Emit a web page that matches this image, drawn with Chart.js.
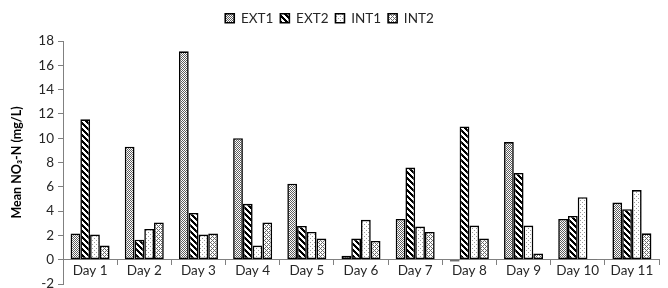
<!DOCTYPE html>
<html>
<head>
<meta charset="utf-8">
<script src="https://cdn.jsdelivr.net/npm/chart.js@4"></script>
<style>
  html, body { margin: 0; padding: 0; background: #fff; }
  #wrap { width: 668px; height: 288px; }
</style>
</head>
<body>
<div id="wrap"><canvas id="chart"></canvas></div>
<script>
/* ============================================================
   DATA
============================================================ */
const days = ['Day 1', 'Day 2', 'Day 3', 'Day 4', 'Day 5', 'Day 6', 'Day 7', 'Day 8', 'Day 9', 'Day 10', 'Day 11'];
const ext1 = [2.15, 9.3, 17.15, 10.0, 6.25, 0.33, 3.35, -0.15, 9.68, 3.35, 4.7];
const ext2 = [11.55, 1.65, 3.85, 4.6, 2.78, 1.74, 7.58, 10.97, 7.14, 3.6, 4.16];
const int1 = [2.07, 2.53, 2.07, 1.16, 2.28, 3.28, 2.73, 2.81, 2.81, 5.15, 5.73];
const int2 = [1.16, 3.06, 2.15, 3.06, 1.74, 1.54, 2.28, 1.74, 0.52, 0.05, 2.17];
const yTicks = [-2, 0, 2, 4, 6, 8, 10, 12, 14, 16, 18];

/* ============================================================
   PATTERNS — small pixel tiles
============================================================ */
const makeTile = (size, ink, test) => {
  const c = document.createElement('canvas');
  c.width = c.height = size;
  const g = c.getContext('2d');
  g.fillStyle = '#fff';
  g.fillRect(0, 0, size, size);
  g.fillStyle = ink;
  for (let y = 0; y < size; y++)
    for (let x = 0; x < size; x++)
      if (test(x, y)) g.fillRect(x, y, 1, 1);
  return g.createPattern(c, 'repeat');
};
const patExt1 = makeTile(2, '#5e5e5e', (x, y) => x === y);
const patExt2 = makeTile(6, '#000', (x, y) => ((x - y + 6) % 6) < 3);
const patInt1 = makeTile(4, '#9a9a9a', (x, y) => (x === 0 && y === 0) || (x === 2 && y === 2));
const patInt2 = makeTile(4, '#6a6a6a', (x, y) => (x + y) % 4 === 0 || (x - y + 4) % 4 === 0);

/* ============================================================
   CHART
============================================================ */
const FONT = "Lato, 'Open Sans', sans-serif";
const TXT = '#262626';
const mk = (label, data, pat) => ({
  label, data,
  backgroundColor: pat,
  borderColor: '#000',
  borderWidth: 1.6,
  borderSkipped: false,
});

// 凡例を少し上へ
const legendNudge = {
  id: 'legendNudge',
  afterLayout(chart) {
    const lg = chart.legend;
    if (!lg) return;
    lg.top -= 6;
    lg.bottom -= 6;
  }
};

new Chart(document.getElementById('chart'), {
  type: 'bar',
  data: {
    labels: days,
    datasets: [
      mk('EXT1', ext1, patExt1),
      mk('EXT2', ext2, patExt2),
      mk('INT1', int1, patInt1),
      mk('INT2', int2, patInt2),
    ]
  },
  plugins: [legendNudge],
  options: {
    responsive: true,
    maintainAspectRatio: false,
    animation: false,
    datasets: { bar: { barPercentage: 1, categoryPercentage: 0.72 } },
    layout: { padding: { left: 0, right: 9, top: 3, bottom: 4 } },
    plugins: {
      legend: {
        position: 'top',
        labels: {
          boxWidth: 9, boxHeight: 9, padding: 7,
          color: TXT,
          font: { family: FONT, size: 13.5 }
        }
      },
      tooltip: { enabled: false }
    },
    scales: {
      x: {
        position: { y: 0 },
        grid: { drawOnChartArea: false, color: '#808080', tickLength: 5, offset: true },
        border: { color: '#808080', width: 1 },
        ticks: { color: TXT, font: { family: FONT, size: 13.5 }, padding: -2, maxRotation: 0 }
      },
      y: {
        min: -2, max: 18,
        afterBuildTicks: s => { s.ticks = yTicks.map(v => ({ value: v })); },
        afterFit: s => {
          s.width = 63;
          // plot area edges as in the reference
          s.paddingTop = 41;
          s.paddingBottom = 4;
        },
        grid: { drawOnChartArea: false, color: '#808080', tickLength: 5 },
        border: { color: '#808080', width: 1 },
        ticks: { color: TXT, font: { family: FONT, size: 13.5 }, padding: 4 },
        title: {
          display: true,
          text: 'Mean NO₃-N (mg/L)',
          color: '#000',
          font: { family: FONT, size: 12.5, weight: 'bold' },
          padding: { top: 9, bottom: 0 }
        }
      }
    }
  }
});
</script>
</body>
</html>
